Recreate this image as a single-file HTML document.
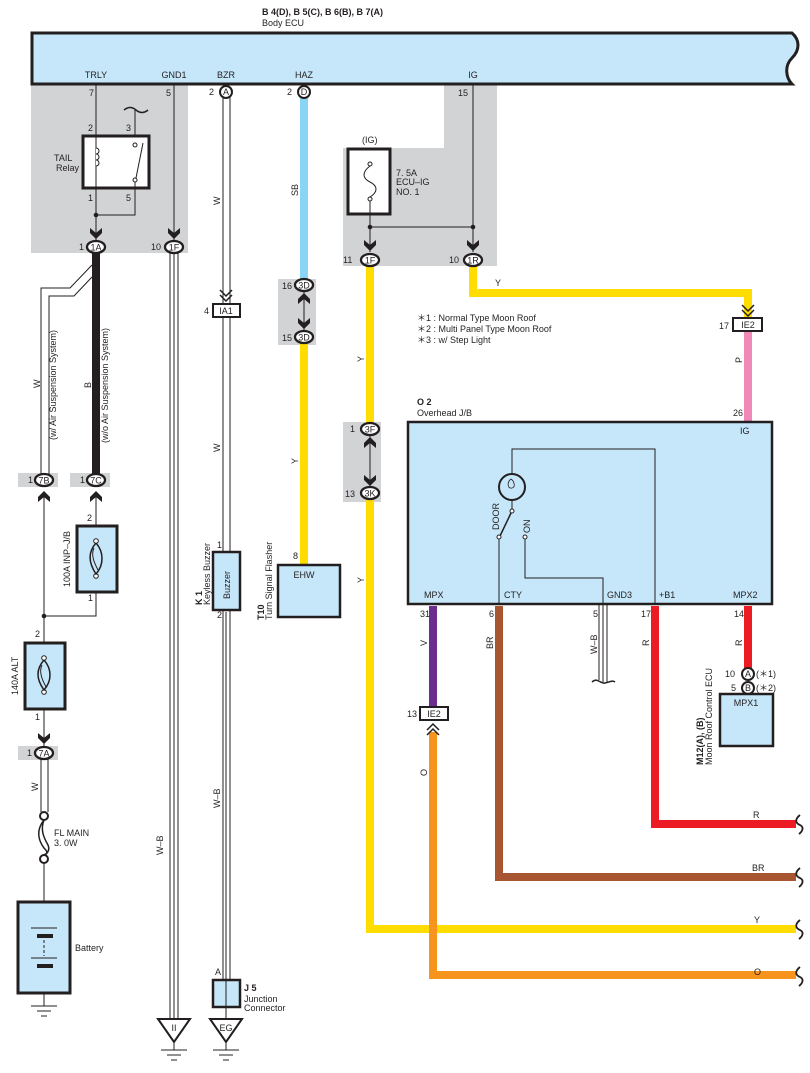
<!DOCTYPE html>
<html><head><meta charset="utf-8"><style>
html,body{margin:0;padding:0;background:#fff}
svg{display:block}
text{font-family:"Liberation Sans",sans-serif;font-size:9px;fill:#231f20}
</style></head><body>
<svg width="810" height="1073" viewBox="0 0 810 1073" xmlns="http://www.w3.org/2000/svg">
<defs>
<path id="arr" d="M-6,-8 L0,-3 L6,-8 L6,-3 L0,3 L-6,-3 Z" fill="#231f20"/>
<path id="arrU" d="M-6,8 L0,3 L6,8 L6,3 L0,-3 L-6,3 Z" fill="#231f20"/>
</defs>
<!-- gray areas -->
<rect x="31" y="85" width="157" height="168" fill="#d2d3d5"/>
<path d="M444,85 H497 V266 H343 V148 H444 Z" fill="#d2d3d5"/>
<rect x="278" y="279" width="38" height="66" fill="#d2d3d5"/>
<rect x="343" y="422" width="38" height="80" fill="#d2d3d5"/>
<rect x="18" y="473" width="40" height="14" fill="#d2d3d5"/>
<rect x="70" y="473" width="40" height="14" fill="#d2d3d5"/>
<rect x="18" y="746" width="40" height="14" fill="#d2d3d5"/>

<!-- Body ECU -->
<text x="262" y="15" font-weight="bold">B 4(D), B 5(C), B 6(B), B 7(A)</text>
<text x="262" y="26">Body ECU</text>
<path d="M32,33 H792 C800,40 800,50 792,58 C784,66 786,78 792,84 H32 Z" fill="#c6e7f9" stroke="#231f20" stroke-width="3"/>
<text x="96" y="78" text-anchor="middle">TRLY</text>
<text x="174" y="78" text-anchor="middle">GND1</text>
<text x="226" y="78" text-anchor="middle">BZR</text>
<text x="304" y="78" text-anchor="middle">HAZ</text>
<text x="473" y="78" text-anchor="middle">IG</text>

<!-- TRLY / relay -->
<text x="89" y="96">7</text>
<line x1="96" y1="85" x2="96" y2="240" stroke="#231f20" stroke-width="1"/>
<text x="88" y="131">2</text><text x="126" y="131">3</text>
<path d="M124,110 q6,-5 12,0 t12,0" fill="none" stroke="#231f20" stroke-width="1.5"/>
<line x1="135" y1="110" x2="135" y2="145" stroke="#231f20" stroke-width="1"/>
<rect x="83" y="136" width="66" height="52" fill="#fff" stroke="#231f20" stroke-width="3"/>
<line x1="96" y1="136" x2="96" y2="188" stroke="#231f20" stroke-width="1"/>
<path d="M96,148 a3,3 0 1 1 0,6 a3,3 0 1 1 0,6 a3,3 0 1 1 0,6" fill="#fff" stroke="#231f20" stroke-width="1"/>
<circle cx="135" cy="145" r="2" fill="#fff" stroke="#231f20"/>
<circle cx="135" cy="180" r="2" fill="#fff" stroke="#231f20"/>
<line x1="136" y1="178" x2="143" y2="143" stroke="#231f20" stroke-width="1"/>
<text x="54" y="161">TAIL</text><text x="56" y="171">Relay</text>
<text x="88" y="201">1</text><text x="126" y="201">5</text>
<path d="M135,182 V215 H96" fill="none" stroke="#231f20" stroke-width="1"/>
<circle cx="96" cy="215" r="2.3" fill="#231f20"/>
<use href="#arr" x="96" y="236"/>
<text x="79" y="250">1</text>
<ellipse cx="96" cy="247" rx="9" ry="6" fill="#fff" stroke="#231f20" stroke-width="2.3"/>
<text x="96" y="250.5" text-anchor="middle">1A</text>

<!-- GND1 -->
<text x="166" y="96">5</text>
<line x1="174" y1="85" x2="174" y2="240" stroke="#231f20" stroke-width="1"/>
<use href="#arr" x="174" y="236"/>
<g stroke="#231f20" stroke-width="1"><line x1="170" y1="252" x2="170" y2="1020"/><line x1="174" y1="252" x2="174" y2="1020"/><line x1="178" y1="252" x2="178" y2="1020"/></g>
<text x="151" y="250">10</text>
<ellipse cx="174" cy="247" rx="9" ry="6" fill="#fff" stroke="#231f20" stroke-width="2.3"/>
<text x="174" y="250.5" text-anchor="middle">1F</text>
<path d="M158,1019 H190 L174,1042 Z" fill="#fff" stroke="#231f20" stroke-width="2"/>
<text x="174" y="1031" text-anchor="middle">II</text>
<g stroke="#231f20" stroke-width="1"><line x1="161" y1="1050" x2="187" y2="1050"/><line x1="167" y1="1055" x2="181" y2="1055"/><line x1="171" y1="1060" x2="177" y2="1060"/><line x1="174" y1="1042" x2="174" y2="1050"/></g>
<text x="163" y="855" transform="rotate(-90 163 855)">W–B</text>

<!-- BZR -->
<g stroke="#231f20" stroke-width="1"><line x1="223" y1="97" x2="223" y2="980"/><line x1="230" y1="97" x2="230" y2="980"/></g>
<text x="209" y="95">2</text>
<circle cx="226" cy="92" r="6" fill="#fff" stroke="#231f20" stroke-width="2"/>
<text x="226" y="95" text-anchor="middle" font-size="8">A</text>
<text x="220" y="205" transform="rotate(-90 220 205)">W</text>
<path d="M220,290 l6,6 l6,-6 M220,295 l6,6 l6,-6" fill="none" stroke="#231f20" stroke-width="1.5"/>
<rect x="213" y="304" width="27" height="13" fill="#fff" stroke="#231f20" stroke-width="2"/>
<text x="226" y="314" text-anchor="middle">IA1</text>
<text x="204" y="314">4</text>
<text x="220" y="452" transform="rotate(-90 220 452)">W</text>
<text x="217" y="548">1</text>
<rect x="213" y="552" width="27" height="58" fill="#c6e7f9" stroke="#231f20" stroke-width="2.5"/>
<text x="230" y="599" transform="rotate(-90 230 599)" font-size="8.5">Buzzer</text>
<text x="217" y="618">2</text>
<text x="202" y="605" transform="rotate(-90 202 605)" font-weight="bold">K 1</text>
<text x="210" y="605" transform="rotate(-90 210 605)">Keyless Buzzer</text>
<g stroke="#231f20" stroke-width="1"><line x1="226" y1="612" x2="226" y2="980"/></g>
<text x="220" y="808" transform="rotate(-90 220 808)">W–B</text>
<text x="215" y="975">A</text>
<rect x="213" y="980" width="27" height="27" fill="#c6e7f9" stroke="#231f20" stroke-width="2.5"/>
<line x1="226" y1="980" x2="226" y2="1020" stroke="#231f20"/>
<text x="244" y="991" font-weight="bold">J 5</text>
<text x="244" y="1002">Junction</text><text x="244" y="1011">Connector</text>
<path d="M210,1019 H242 L226,1042 Z" fill="#fff" stroke="#231f20" stroke-width="2"/>
<text x="226" y="1031" text-anchor="middle">EG</text>
<g stroke="#231f20" stroke-width="1"><line x1="213" y1="1050" x2="239" y2="1050"/><line x1="219" y1="1055" x2="233" y2="1055"/><line x1="223" y1="1060" x2="229" y2="1060"/><line x1="226" y1="1042" x2="226" y2="1050"/></g>

<!-- HAZ -->
<line x1="304" y1="97" x2="304" y2="280" stroke="#8ad4f5" stroke-width="8"/>
<line x1="304" y1="342" x2="304" y2="566" stroke="#ffdd00" stroke-width="8"/>
<text x="287" y="95">2</text>
<circle cx="304" cy="92" r="6" fill="#fff" stroke="#231f20" stroke-width="2"/>
<text x="304" y="95" text-anchor="middle" font-size="8">D</text>
<text x="298" y="196" transform="rotate(-90 298 196)">SB</text>
<line x1="304" y1="292" x2="304" y2="330" stroke="#231f20"/>
<use href="#arrU" x="304" y="296"/><use href="#arr" x="304" y="326"/>
<text x="282" y="289">16</text>
<ellipse cx="304" cy="285" rx="9" ry="6" fill="#fff" stroke="#231f20" stroke-width="2.3"/>
<text x="304" y="288.5" text-anchor="middle">3D</text>
<text x="282" y="341">15</text>
<ellipse cx="304" cy="337" rx="9" ry="6" fill="#fff" stroke="#231f20" stroke-width="2.3"/>
<text x="304" y="340.5" text-anchor="middle">3D</text>
<text x="298" y="464" transform="rotate(-90 298 464)">Y</text>
<text x="293" y="559">8</text>
<rect x="278" y="565" width="62" height="52" fill="#c6e7f9" stroke="#231f20" stroke-width="2.5"/>
<text x="304" y="578" text-anchor="middle">EHW</text>
<text x="264" y="620" transform="rotate(-90 264 620)" font-weight="bold">T10</text>
<text x="272" y="620" transform="rotate(-90 272 620)">Turn Signal Flasher</text>

<!-- IG section -->
<line x1="473" y1="85" x2="473" y2="252" stroke="#231f20"/>
<text x="458" y="96">15</text>
<text x="362" y="143">(IG)</text>
<rect x="348" y="149" width="42" height="65" fill="#fff" stroke="#231f20" stroke-width="3"/>
<circle cx="370" cy="164" r="2" fill="#fff" stroke="#231f20"/>
<circle cx="370" cy="199" r="2" fill="#fff" stroke="#231f20"/>
<path d="M370,166 C362,172 362,178 370,182 C378,186 378,192 370,197" fill="none" stroke="#231f20"/>
<text x="396" y="176">7. 5A</text><text x="396" y="185">ECU–IG</text><text x="396" y="195">NO. 1</text>
<path d="M370,201 V252 M370,227 H473" fill="none" stroke="#231f20"/>
<circle cx="370" cy="227" r="2.3" fill="#231f20"/><circle cx="473" cy="227" r="2.3" fill="#231f20"/>
<use href="#arr" x="370" y="248"/><use href="#arr" x="473" y="248"/>

<!-- yellow wires -->
<path d="M473,265 V293 H748 V318" fill="none" stroke="#ffdd00" stroke-width="8"/>
<line x1="370" y1="265" x2="370" y2="429" stroke="#ffdd00" stroke-width="8"/>
<path d="M370,493 V929 H796" fill="none" stroke="#ffdd00" stroke-width="8"/>
<line x1="748" y1="332" x2="748" y2="423" stroke="#f088b8" stroke-width="8"/>
<text x="343" y="263">11</text>
<ellipse cx="370" cy="260" rx="9" ry="6" fill="#fff" stroke="#231f20" stroke-width="2.3"/>
<text x="370" y="263.5" text-anchor="middle">1F</text>
<text x="449" y="263">10</text>
<ellipse cx="473" cy="260" rx="9" ry="6" fill="#fff" stroke="#231f20" stroke-width="2.3"/>
<text x="473" y="263.5" text-anchor="middle">1R</text>
<text x="495" y="286">Y</text>
<path d="M742,305 l6,6 l6,-6 M742,310 l6,6 l6,-6" fill="none" stroke="#231f20" stroke-width="1.5"/>
<rect x="733" y="318" width="29" height="13" fill="#fff" stroke="#231f20" stroke-width="2"/>
<text x="748" y="328" text-anchor="middle">IE2</text>
<text x="719" y="329">17</text>
<text x="742" y="363" transform="rotate(-90 742 363)">P</text>
<text x="417" y="321" font-size="8.5">＊1 : Normal Type Moon Roof</text>
<text x="417" y="332" font-size="8.5">＊2 : Multi Panel Type Moon Roof</text>
<text x="417" y="343" font-size="8.5">＊3 : w/ Step Light</text>
<text x="364" y="362" transform="rotate(-90 364 362)">Y</text>
<line x1="370" y1="436" x2="370" y2="487" stroke="#231f20"/>
<use href="#arrU" x="370" y="440"/><use href="#arr" x="370" y="483"/>
<text x="350" y="432">1</text>
<ellipse cx="370" cy="429" rx="9" ry="6" fill="#fff" stroke="#231f20" stroke-width="2.3"/>
<text x="370" y="432.5" text-anchor="middle">3F</text>
<text x="345" y="497">13</text>
<ellipse cx="370" cy="493" rx="9" ry="6" fill="#fff" stroke="#231f20" stroke-width="2.3"/>
<text x="370" y="496.5" text-anchor="middle">3K</text>
<text x="364" y="583" transform="rotate(-90 364 583)">Y</text>

<!-- O2 -->
<text x="417" y="405" font-weight="bold">O 2</text>
<text x="417" y="416">Overhead J/B</text>
<text x="733" y="416">26</text>
<rect x="408" y="422" width="364" height="182" fill="#c6e7f9" stroke="#231f20" stroke-width="2.5"/>
<text x="740" y="434">IG</text>
<path d="M512,474 V449 H655 V604" fill="none" stroke="#231f20"/>
<circle cx="512" cy="487" r="13" fill="none" stroke="#231f20" stroke-width="2"/>
<path d="M511,479 c-4,3 -4,10 1,9 c4,-1 2,-7 -1,-9" fill="none" stroke="#231f20" stroke-width="0.8"/>
<line x1="512" y1="500" x2="512" y2="509" stroke="#231f20"/>
<circle cx="512" cy="511" r="2" fill="#fff" stroke="#231f20"/>
<line x1="511" y1="513" x2="500" y2="536" stroke="#231f20" stroke-width="1.5"/>
<circle cx="499" cy="537" r="2" fill="#fff" stroke="#231f20"/>
<circle cx="525" cy="537" r="2" fill="#fff" stroke="#231f20"/>
<path d="M499,539 V604 M525,539 V578 H603 V604" fill="none" stroke="#231f20"/>
<text x="499" y="530" transform="rotate(-90 499 530)">DOOR</text>
<text x="530" y="533" transform="rotate(-90 530 533)">ON</text>
<text x="424" y="598">MPX</text><text x="504" y="598">CTY</text><text x="607" y="598">GND3</text><text x="659" y="598">+B1</text><text x="733" y="598">MPX2</text>

<!-- below O2 wires -->
<line x1="433" y1="606" x2="433" y2="707" stroke="#6b2d8e" stroke-width="8"/>
<path d="M433,732 V975 H796" fill="none" stroke="#f7941d" stroke-width="8"/>
<path d="M499,606 V877 H796" fill="none" stroke="#a85532" stroke-width="8"/>
<path d="M655,606 V824 H796" fill="none" stroke="#ed1c24" stroke-width="8"/>
<line x1="748" y1="606" x2="748" y2="668" stroke="#ed1c24" stroke-width="8"/>
<g stroke="#231f20" stroke-width="1"><line x1="599" y1="605" x2="599" y2="680"/><line x1="603" y1="605" x2="603" y2="682"/><line x1="607" y1="605" x2="607" y2="682"/></g>
<path d="M592,682 c6,-5 8,2 13,1 c5,-1 7,-3 10,-1" fill="none" stroke="#231f20" stroke-width="1.5"/>
<text x="420" y="617">31</text><text x="489" y="617">6</text><text x="593" y="617">5</text><text x="641" y="617">17</text><text x="734" y="617">14</text>
<text x="427" y="646" transform="rotate(-90 427 646)">V</text>
<text x="493" y="649" transform="rotate(-90 493 649)">BR</text>
<text x="597" y="654" transform="rotate(-90 597 654)">W–B</text>
<text x="649" y="646" transform="rotate(-90 649 646)">R</text>
<text x="742" y="646" transform="rotate(-90 742 646)">R</text>
<rect x="420" y="707" width="28" height="13" fill="#fff" stroke="#231f20" stroke-width="2"/>
<text x="434" y="717" text-anchor="middle">IE2</text>
<text x="407" y="717">13</text>
<path d="M427,730 l6,-6 l6,6 M427,735 l6,-6 l6,6" fill="none" stroke="#231f20" stroke-width="1.5"/>
<text x="427" y="776" transform="rotate(-90 427 776)">O</text>
<text x="725" y="677">10</text>
<circle cx="748" cy="674" r="6" fill="#fff" stroke="#231f20" stroke-width="2"/>
<text x="748" y="677" text-anchor="middle" font-size="8">A</text>
<text x="756" y="677" font-size="8.5">(＊1)</text>
<text x="731" y="691">5</text>
<circle cx="748" cy="688" r="6" fill="#fff" stroke="#231f20" stroke-width="2"/>
<text x="748" y="691" text-anchor="middle" font-size="8">B</text>
<text x="756" y="691" font-size="8.5">(＊2)</text>
<rect x="720" y="694" width="53" height="52" fill="#c6e7f9" stroke="#231f20" stroke-width="2.5"/>
<text x="746" y="706" text-anchor="middle">MPX1</text>
<text x="703" y="765" transform="rotate(-90 703 765)" font-weight="bold">M12(A), (B)</text>
<text x="712" y="765" transform="rotate(-90 712 765)">Moon Roof Control ECU</text>
<text x="753" y="818">R</text><text x="752" y="871">BR</text><text x="754" y="923">Y</text><text x="754" y="975">O</text>
<g fill="none" stroke="#231f20" stroke-width="1.8">
<path d="M800,815 c-5,4 -5,8 0,10 c4,2 3,6 -1,9"/>
<path d="M800,868 c-5,4 -5,8 0,10 c4,2 3,6 -1,9"/>
<path d="M800,920 c-5,4 -5,8 0,10 c4,2 3,6 -1,9"/>
<path d="M800,967 c-5,4 -5,8 0,10 c4,2 3,6 -1,9"/>
</g>

<!-- left: B and W from 1A -->
<line x1="96" y1="253" x2="96" y2="474" stroke="#231f20" stroke-width="8"/>
<path d="M92,265 L70,288 H41 V474" fill="none" stroke="#231f20" stroke-width="1"/>
<path d="M92,277 L74,296 H49 V474" fill="none" stroke="#231f20" stroke-width="1"/>
<text x="40" y="388" transform="rotate(-90 40 388)">W</text>
<text x="56" y="440" transform="rotate(-90 56 440)" font-size="8.5">(w/ Air Suspension System)</text>
<text x="91" y="388" transform="rotate(-90 91 388)">B</text>
<text x="108" y="443" transform="rotate(-90 108 443)" font-size="8.5">(w/o Air Suspension System)</text>
<text x="28" y="483">1</text>
<ellipse cx="44" cy="480" rx="9" ry="6" fill="#fff" stroke="#231f20" stroke-width="2.3"/>
<text x="44" y="483.5" text-anchor="middle">7B</text>
<text x="80" y="483">1</text>
<ellipse cx="96" cy="480" rx="9" ry="6" fill="#fff" stroke="#231f20" stroke-width="2.3"/>
<text x="96" y="483.5" text-anchor="middle">7C</text>
<use href="#arrU" x="44" y="494"/><use href="#arrU" x="96" y="494"/>
<path d="M96,492 V616 H44 M44,492 V750" fill="none" stroke="#231f20" stroke-width="1"/>
<circle cx="44" cy="616" r="2.3" fill="#231f20"/>
<text x="87" y="521">2</text>
<rect x="77" y="526" width="40" height="66" fill="#c6e7f9" stroke="#231f20" stroke-width="3"/>
<circle cx="96" cy="541" r="2.3" fill="#fff" stroke="#231f20"/>
<circle cx="96" cy="576" r="2.3" fill="#fff" stroke="#231f20"/>
<path d="M96,543 C88,552 88,562 96,574 C104,565 104,552 96,543" fill="none" stroke="#231f20" stroke-width="1.5"/>
<path d="M94,548 C90,556 96,566 98,570" fill="none" stroke="#231f20" stroke-width="1"/>
<text x="88" y="601">1</text>
<text x="70" y="587" transform="rotate(-90 70 587)">100A INP–J/B</text>
<text x="35" y="637">2</text>
<rect x="25" y="643" width="40" height="66" fill="#c6e7f9" stroke="#231f20" stroke-width="3"/>
<circle cx="44" cy="658" r="2.3" fill="#fff" stroke="#231f20"/>
<circle cx="44" cy="692" r="2.3" fill="#fff" stroke="#231f20"/>
<path d="M44,660 C36,669 36,679 44,690 C52,681 52,669 44,660" fill="none" stroke="#231f20" stroke-width="1.5"/>
<path d="M42,665 C38,673 44,683 46,687" fill="none" stroke="#231f20" stroke-width="1"/>
<text x="18" y="695" transform="rotate(-90 18 695)">140A ALT</text>
<text x="35" y="720">1</text>
<use href="#arr" x="44" y="741"/>
<text x="27" y="756">1</text>
<ellipse cx="44" cy="753" rx="9" ry="6" fill="#fff" stroke="#231f20" stroke-width="2.3"/>
<text x="44" y="756.5" text-anchor="middle">7A</text>
<g stroke="#231f20" stroke-width="1"><line x1="41" y1="759" x2="41" y2="812"/><line x1="48" y1="759" x2="48" y2="812"/></g>
<text x="38" y="791" transform="rotate(-90 38 791)">W</text>
<circle cx="44" cy="816" r="4" fill="#fff" stroke="#231f20" stroke-width="2"/>
<circle cx="44" cy="859" r="4" fill="#fff" stroke="#231f20" stroke-width="2"/>
<path d="M44,820 C36,830 38,840 44,848 C48,852 48,854 44,855 M44,820 C40,830 44,838 48,845 C50,850 48,853 44,855" fill="none" stroke="#231f20" stroke-width="1.5"/>
<text x="54" y="836">FL MAIN</text><text x="54" y="846">3. 0W</text>
<line x1="44" y1="863" x2="44" y2="1006" stroke="#231f20"/>
<rect x="18" y="902" width="52" height="91" fill="#c6e7f9" stroke="#231f20" stroke-width="3"/>
<line x1="44" y1="924" x2="44" y2="980" stroke="#c6e7f9" stroke-width="2"/>
<line x1="31" y1="928" x2="57" y2="928" stroke="#231f20"/>
<rect x="37" y="934" width="16" height="4" fill="#231f20"/>
<line x1="44" y1="940" x2="44" y2="956" stroke="#231f20" stroke-dasharray="3,2"/>
<line x1="31" y1="958" x2="57" y2="958" stroke="#231f20"/>
<rect x="37" y="964" width="16" height="4" fill="#231f20"/>
<text x="75" y="951">Battery</text>
<g stroke="#231f20" stroke-width="1"><line x1="31" y1="1006" x2="57" y2="1006"/><line x1="37" y1="1011" x2="51" y2="1011"/><line x1="41" y1="1016" x2="47" y2="1016"/></g>
</svg>
</body></html>
